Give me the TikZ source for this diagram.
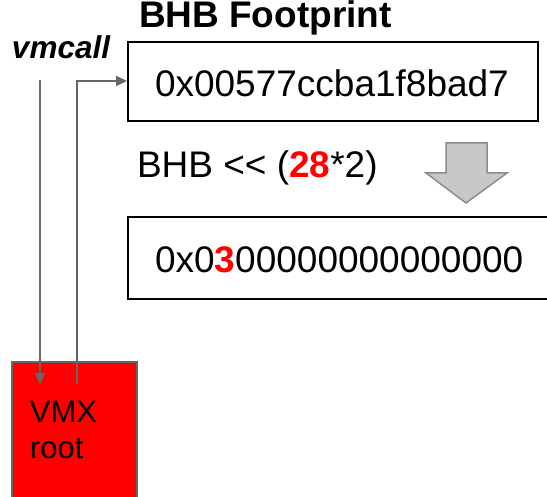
\documentclass[tikz,border=0pt]{standalone}
\usepackage{fontspec}
\setmainfont{Liberation Sans}
\usetikzlibrary{arrows.meta}
\definecolor{linegray}{HTML}{666666}
\definecolor{hlred}{HTML}{FF0000}
\definecolor{blockgray}{HTML}{C8C8C8}
\definecolor{blockedge}{HTML}{8C8C8C}
\tikzset{
  valbox/.style={draw=black, line width=1.5pt},
  txt/.style={anchor=base west, inner sep=0pt, outer sep=0pt},
  link/.style={draw=linegray, line width=2pt},
  linkarrow/.style={link, -{Triangle[length=11pt,width=10pt]}},
}
\begin{document}
\begin{tikzpicture}[x=1pt, y=-1pt]
\useasboundingbox (0,0) rectangle (547,497);

% value boxes
\draw[valbox] (128,42) rectangle (538,121);
\draw[valbox] (128,217) rectangle (570,299);

% root box
\draw[fill=hlred, draw=linegray, line width=2pt] (12,362) rectangle (137,520);

% shift arrow
\filldraw[fill=blockgray, draw=blockedge, line width=1.5pt]
  (446,143) -- (487,143) -- (487,173) -- (507,173) -- (466,203) -- (426,173) -- (446,173) -- cycle;

% texts
\node[txt, font=\bfseries\fontsize{37}{44}\selectfont] (title) at (139,28) {BHB Footprint};
\node[txt, font=\bfseries\itshape\fontsize{31.5}{36}\selectfont] (vmcall) at (12,59) {vmcall};
\node[txt, font=\fontsize{37}{44}\selectfont] (hexa) at (155,97) {0x00577ccba1f8bad7};
\node[txt, font=\fontsize{37}{42}\selectfont] (op) at (137,178) {BHB {<}{<} (\textcolor{hlred}{\bfseries 28}*2)};
\node[txt, font=\fontsize{37}{44}\selectfont] (hexb) at (155,273) {0x0\textcolor{hlred}{\bfseries 3}00000000000000};
\node[txt, font=\fontsize{31}{36}\selectfont] (root) at (30,423) {VMX};
\node[txt, font=\fontsize{31}{36}\selectfont] (root2) at (30,459) {root};

% call paths
\coordinate (downtop) at (40,80);
\coordinate (downend) at (40,384);
\coordinate (uptop) at (77,81);
\coordinate (upstart) at (77,384);
\coordinate (boxin) at (127,81);
\draw[linkarrow] (downtop) -- (downend);
\draw[linkarrow] (upstart) -- (uptop) -- (boxin);
\end{tikzpicture}
\end{document}
